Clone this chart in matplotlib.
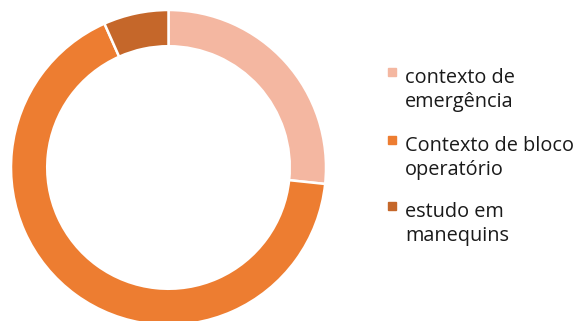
import matplotlib
matplotlib.use("Agg")
import matplotlib.pyplot as plt
from matplotlib.patches import Rectangle

# data
labels = ["contexto de\nemergência", "Contexto de bloco\noperatório", "estudo em\nmanequins"]
values = [4, 10, 1]
colors = ["#F4B7A1", "#ED7D31", "#C5672A"]

W, H = 576, 321
fig = plt.figure(figsize=(W / 100, H / 100), dpi=100)

# donut placement (pixels): centre (168.5, 167.5), outer radius 157.5
cx, cy, r = 168.5, 167.5, 157.5
ax = fig.add_axes([(cx - r) / W, (H - cy - r) / H, 2 * r / W, 2 * r / H])
ax.pie(values, colors=colors, startangle=90, counterclock=False, radius=1,
       wedgeprops=dict(width=0.23, edgecolor="white", linewidth=1.8))
ax.set_xlim(-1, 1)
ax.set_ylim(-1, 1)
ax.set_aspect("auto")
ax.axis("off")

# legend drawn by hand so the marker sits on the first line
base = [82, 150, 216]   # baseline of first line, px from top
gap = 24.5
for lab, col, b in zip(labels, colors, base):
    fig.patches.append(Rectangle((388 / W, 1 - (b - 6) / H), 8 / W, 8 / H,
                                 transform=fig.transFigure, color=col, figure=fig))
    # multi-line text with va='baseline' aligns on the last line
    fig.text(405 / W, 1 - (b + gap) / H, lab, va="baseline", ha="left", fontsize=14.3,
             color="#1a1a1a", linespacing=1.22, family=["Open Sans", "DejaVu Sans"])

fig.savefig("out.png", dpi=100)
